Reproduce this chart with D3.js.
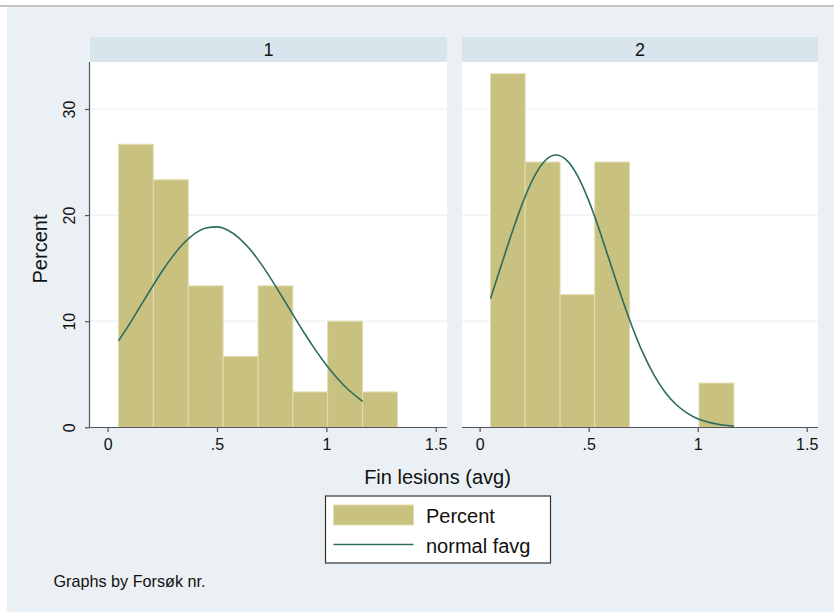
<!DOCTYPE html>
<html>
<head>
<meta charset="utf-8">
<script src="https://cdn.jsdelivr.net/npm/d3@7"></script>
<style>
  body { margin: 0; background: #ffffff; }
  svg { display: block; font-family: "Liberation Sans", Arial, Helvetica, sans-serif; }
</style>
</head>
<body>
<svg id="chart" width="834" height="612"></svg>
<script>
// ---------------- DATA ----------------
const panelLabels = ["1", "2"];
const binEdges = [0.05, 0.209, 0.369, 0.528, 0.688, 0.847, 1.006, 1.166, 1.325];
const percent1 = [26.67, 23.33, 13.33, 6.67, 13.33, 3.33, 10.0, 3.33];
const percent2 = [33.33, 25.0, 12.5, 25.0, 0, 0, 4.17, 0];

// normal density overlay
const curveX1 = [0.05, 0.1, 0.15, 0.2, 0.25, 0.3, 0.35, 0.4, 0.45, 0.5, 0.55, 0.6, 0.65, 0.7, 0.75, 0.8, 0.85, 0.9, 0.95, 1.0, 1.05, 1.1, 1.166];
const curveY1 = [8.16, 9.72, 11.42, 13.11, 14.73, 16.18, 17.39, 18.28, 18.79, 18.89, 18.57, 17.86, 16.80, 15.45, 13.90, 12.23, 10.53, 8.86, 7.30, 5.88, 4.63, 3.56, 2.44];
const curveX2 = [0.05, 0.1, 0.15, 0.2, 0.25, 0.3, 0.35, 0.4, 0.45, 0.5, 0.55, 0.6, 0.65, 0.7, 0.75, 0.8, 0.85, 0.9, 0.95, 1.0, 1.05, 1.1, 1.166];
const curveY2 = [12.15, 15.31, 18.43, 21.29, 23.60, 25.12, 25.66, 25.16, 23.68, 21.39, 18.55, 15.44, 12.33, 9.46, 6.96, 4.92, 3.33, 2.17, 1.36, 0.81, 0.47, 0.26, 0.11];

const xTicks = [0, 0.5, 1, 1.5];
const xTickLabels = ["0", ".5", "1", "1.5"];
const yTicks = [0, 10, 20, 30];

const xTitle = "Fin lesions (avg)";
const yTitle = "Percent";
const legendLabels = ["Percent", "normal favg"];
const note = "Graphs by Forsøk nr.";

// ---------------- STYLE ----------------
const barFill = "#c9c17f";
const barStroke = "#e3ddb0";
const lineColor = "#2b6c5f";
const bgColor = "#eaf0f3";
const stripColor = "#d9e5ec";
const gridColor = "#eaf0f3";
const axisColor = "#555555";

const svg = d3.select("#chart");

// page background + top rule
svg.append("rect").attr("x", 0).attr("y", 0).attr("width", 834).attr("height", 612).attr("fill", "#ffffff");
svg.append("rect").attr("x", 7).attr("y", 7).attr("width", 827).attr("height", 605).attr("fill", bgColor);
svg.append("line").attr("x1", 0).attr("x2", 834).attr("y1", 6).attr("y2", 6).attr("stroke", "#8a8a8a").attr("stroke-width", 1.2);

const plotTop = 62, plotBottom = 427;
const y = d3.scaleLinear().domain([0, 30]).range([427.3, 109]);

const panels = [
  { label: panelLabels[0], left: 90, right: 447, values: percent1, cx: curveX1, cy: curveY1, yAxis: true },
  { label: panelLabels[1], left: 462, right: 818, values: percent2, cx: curveX2, cy: curveY2, yAxis: false }
];

panels.forEach(p => {
  const x = d3.scaleLinear().domain([0, 1.5]).range([p.left + 17.6, p.right - 11.3]);
  const g = svg.append("g");

  // strip
  g.append("rect").attr("x", p.left).attr("y", 37).attr("width", p.right - p.left).attr("height", 25).attr("fill", stripColor);
  g.append("text").attr("x", (p.left + p.right) / 2).attr("y", 56)
    .attr("text-anchor", "middle").attr("font-size", 18).attr("fill", "#111").text(p.label);

  // plot region
  g.append("rect").attr("x", p.left).attr("y", plotTop).attr("width", p.right - p.left).attr("height", plotBottom - plotTop).attr("fill", "#ffffff");

  // gridlines
  g.selectAll(".grid").data(yTicks.filter(t => t > 0)).enter().append("line")
    .attr("x1", p.left).attr("x2", p.right)
    .attr("y1", d => y(d)).attr("y2", d => y(d))
    .attr("stroke", gridColor).attr("stroke-width", 1.2);

  // bars
  const bars = p.values.map((v, i) => ({ x0: binEdges[i], x1: binEdges[i + 1], v })).filter(d => d.v > 0);
  g.selectAll(".bar").data(bars).enter().append("rect")
    .attr("x", d => x(d.x0)).attr("width", d => x(d.x1) - x(d.x0))
    .attr("y", d => y(d.v)).attr("height", d => y(0) - y(d.v))
    .attr("fill", barFill).attr("stroke", barStroke).attr("stroke-width", 1);

  // normal curve
  const pts = p.cx.map((v, i) => [v, p.cy[i]]);
  const line = d3.line().x(d => x(d[0])).y(d => y(d[1])).curve(d3.curveMonotoneX);
  g.append("path").attr("d", line(pts)).attr("fill", "none").attr("stroke", lineColor).attr("stroke-width", 1.6);

  // x axis
  const xa = g.append("g").attr("transform", `translate(0,${plotBottom})`)
    .call(d3.axisBottom(x).tickValues(xTicks).tickFormat((d, i) => xTickLabels[i]).tickSize(5).tickPadding(7).tickSizeOuter(0));
  xa.select(".domain").attr("d", `M${p.left},0.5H${p.right}`).attr("stroke", axisColor).attr("stroke-width", 1.2);
  xa.selectAll(".tick line").attr("stroke", axisColor).attr("stroke-width", 1.2);
  xa.selectAll(".tick text").attr("font-size", 16).attr("fill", "#111").attr("font-family", null);

  // y axis
  if (p.yAxis) {
    const ya = g.append("g").attr("transform", `translate(${p.left},0)`)
      .call(d3.axisLeft(y).tickValues(yTicks).tickFormat(d3.format("d")).tickSize(5).tickSizeOuter(0));
    ya.select(".domain").attr("d", `M-0.5,${plotTop}V${plotBottom}`).attr("stroke", axisColor).attr("stroke-width", 1.2);
    ya.selectAll(".tick line").attr("stroke", axisColor).attr("stroke-width", 1.2);
    ya.selectAll(".tick text")
      .attr("transform", "rotate(-90)")
      .attr("x", 0).attr("y", -15).attr("dy", null)
      .attr("text-anchor", "middle")
      .attr("font-size", 16).attr("fill", "#111").attr("font-family", null);
  }
});

// axis titles
svg.append("text").attr("x", 437.5).attr("y", 484).attr("text-anchor", "middle")
  .attr("font-size", 20).attr("fill", "#111").text(xTitle);
svg.append("text").attr("transform", "translate(46.5,249) rotate(-90)").attr("text-anchor", "middle")
  .attr("font-size", 20).attr("fill", "#111").text(yTitle);

// legend
const lg = svg.append("g");
lg.append("rect").attr("x", 325.5).attr("y", 496).attr("width", 225).attr("height", 67)
  .attr("fill", "#ffffff").attr("stroke", "#333").attr("stroke-width", 1.2);
lg.append("rect").attr("x", 333.5).attr("y", 505).attr("width", 80).attr("height", 20)
  .attr("fill", barFill).attr("stroke", barStroke).attr("stroke-width", 1);
lg.append("line").attr("x1", 333.5).attr("x2", 413.5).attr("y1", 544.5).attr("y2", 544.5)
  .attr("stroke", lineColor).attr("stroke-width", 1.6);
lg.append("text").attr("x", 426).attr("y", 523).attr("font-size", 20).attr("fill", "#111").text(legendLabels[0]);
lg.append("text").attr("x", 426).attr("y", 553).attr("font-size", 20).attr("fill", "#111").text(legendLabels[1]);

// note
svg.append("text").attr("x", 53.5).attr("y", 587).attr("font-size", 16.2).attr("fill", "#111").text(note);
</script>
</body>
</html>
